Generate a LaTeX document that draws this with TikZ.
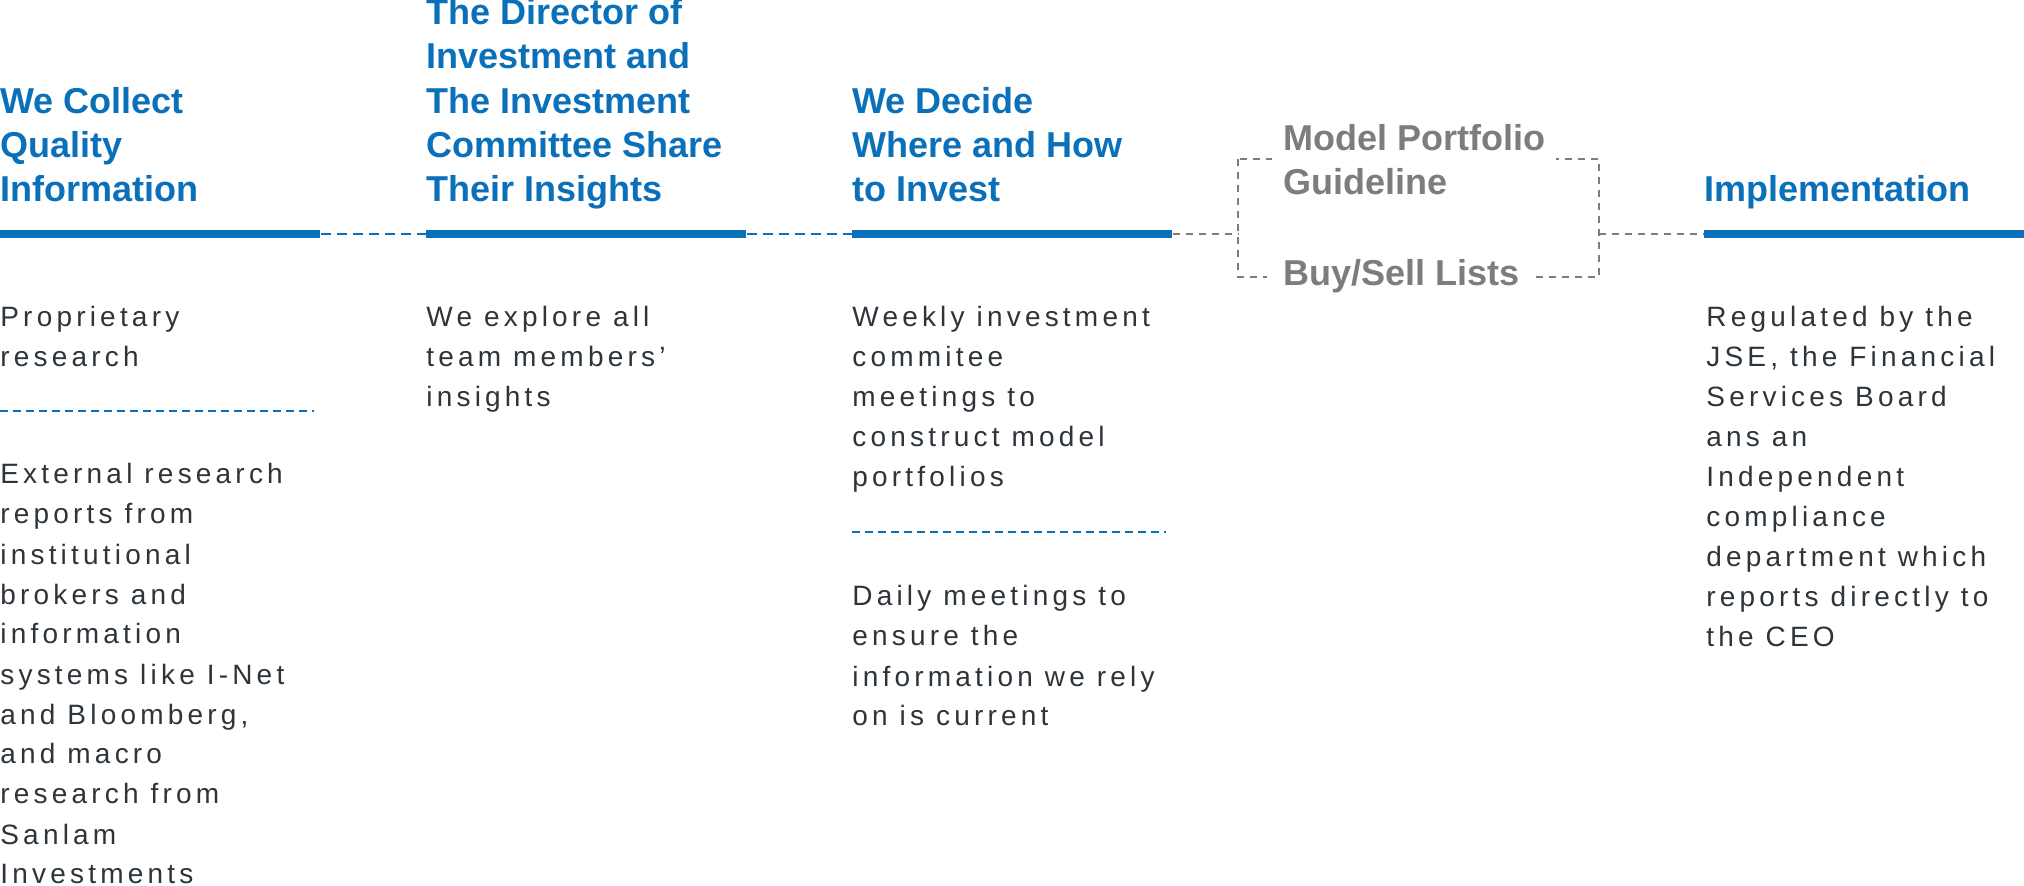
\documentclass[tikz,border=0pt]{standalone}
\usepackage{fontspec}
\setmainfont{Liberation Sans}
\newfontfamily\bodyfont[LetterSpace=15]{Liberation Sans}
\usetikzlibrary{positioning}
\definecolor{stepblue}{RGB}{11,112,186}
\definecolor{stepgray}{RGB}{125,125,125}
\definecolor{bodyink}{RGB}{45,52,58}

\begin{document}
\begin{tikzpicture}[x=0.5pt, y=-0.5pt,
    head/.style={anchor=base west, align=left, inner sep=0, text=stepblue,
                 font=\fontsize{18}{22.2}\selectfont\bfseries},
    grayhead/.style={head, text=stepgray, fill=white, inner ysep=0},
    body/.style={anchor=base west, align=left, inner sep=0, text=bodyink,
                 font=\bodyfont\fontsize{14}{20}\selectfont},
    bar/.style={fill=stepblue, minimum width=160pt, minimum height=4pt,
                inner sep=0, anchor=west},
    link/.style={stepblue, line width=1pt, dash pattern=on 5pt off 3pt},
    sepline/.style={stepblue, line width=1pt, dash pattern=on 4pt off 2.5pt},
    graylink/.style={stepgray, line width=1pt, dash pattern=on 3.5pt off 3pt}]
  \useasboundingbox (0,0) rectangle (2024,886);

  % Bars
  \node[bar] (b1) at (0,234) {};
  \node[bar] (b2) at (426,234) {};
  \node[bar] (b3) at (852,234) {};
  \node[bar] (b4) at (1704,234) {};

  % Headings (placed at the baseline of their last line)
  \node[head] (h1) at (0,202) {We Collect\\Quality\\Information};
  \node[head] (h2) at (426,202) {The Director of\\Investment and\\The Investment\\Committee Share\\Their Insights};
  \node[head] (h3) at (852,202) {We Decide\\Where and How\\to Invest};
  \node[head] (h5) at (1704,202) {Implementation};

  % Bracket round the lists
  \coordinate (bxl) at (1238,234);
  \coordinate (bxr) at (1599,234);
  \draw[graylink] (1238,159) rectangle (1599,277);
  \node[grayhead, inner xsep=5.5pt] (mp) at (1272,195) {Model Portfolio\\Guideline};
  \node[grayhead, inner xsep=8pt] (bs) at (1267,286) {Buy/Sell Lists};

  % Connectors
  \draw[link] (b1.east) -- (b2.west);
  \draw[link] (b2.east) -- (b3.west);
  \draw[graylink] (b3.east) -- (bxl);
  \draw[graylink] (bxr) -- (b4.west);

  % Column texts
  \node[body] (t1a) at (0,367) {Proprietary\\research};
  \draw[sepline] (0,411) -- (314,411);
  \node[body] (t1b) at (0,884) {External research\\reports from\\institutional\\brokers and\\information\\systems like I-Net\\and Bloomberg,\\and macro\\research from\\Sanlam\\Investments};

  \node[body] (t2) at (426,407) {We explore all\\team members’\\insights};

  \node[body] (t3a) at (852,487) {Weekly investment\\commitee\\meetings to\\construct model\\portfolios};
  \draw[sepline] (852,532) -- (1166,532);
  \node[body] (t3b) at (852,726) {Daily meetings to\\ensure the\\information we rely\\on is current};

  \node[body] (t5) at (1706,647) {Regulated by the\\JSE, the Financial\\Services Board\\ans an\\Independent\\compliance\\department which\\reports directly to\\the CEO};
\end{tikzpicture}
\end{document}
